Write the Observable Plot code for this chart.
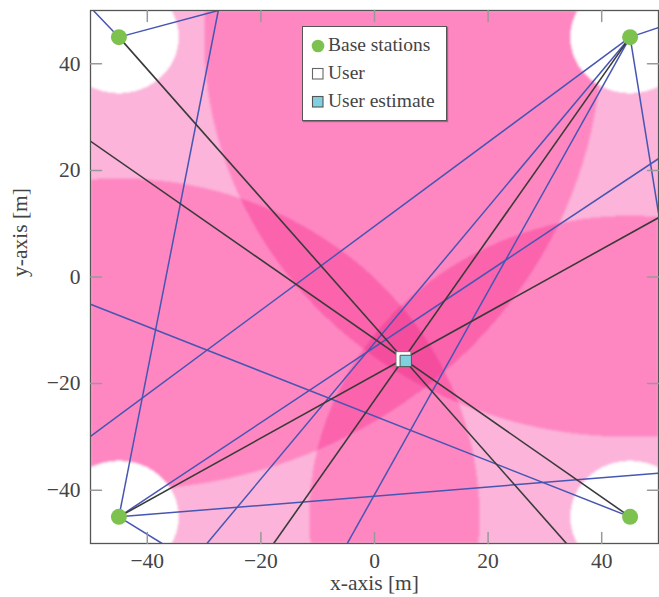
<!DOCTYPE html>
<html>
<head>
<meta charset="utf-8">
<script src="https://cdn.jsdelivr.net/npm/d3@7"></script>
<script src="https://cdn.jsdelivr.net/npm/@observablehq/plot@0.6"></script>
<style>
  body { margin: 0; background: #fff; }
  #wrap { position: relative; width: 659px; height: 597px; }
  #legend {
    position: absolute; left: 302px; top: 26px; width: 143px; height: 93px;
    border: 1.3px solid #555; background: #fff;
    box-shadow: 1px 1px 1px rgba(0,0,0,0.3);
    font-family: "Liberation Serif", serif; font-size: 19.5px; color: #444;
  }
  .row { position: absolute; left: 0; height: 28px; line-height: 28px; white-space: nowrap; }
  .row svg { position: absolute; left: 6px; top: 7px; }
  .row span { position: absolute; left: 25px; top: -1px; }
</style>
</head>
<body>
<div id="wrap"></div>
<script>
// ---- data ----
const stationX = [-45, 45, -45, 45];          // top-left, top-right, bottom-left, bottom-right
const stationY = [45, 45, -45, -45];
const outerRadius = [85, 75, 63.5, 56.5];      // distance-region radius per station
const innerRadius = [10.5, 10.5, 10.5, 10.5];  // exclusion disk around each station
const userX = [5.1], userY = [-15.4];
const estimateX = [5.5], estimateY = [-15.75];
// multipath rays (blue): station index and end point on the frame
const rayStation = [0, 0, 1, 1, 1, 1, 1, 2, 2, 2, 2, 3];
const rayEndX = [-49.5, -27.5, 50, 50, -50, -29.5, -4.8, -37.4, -27.5, 50, 50, -50];
const rayEndY = [50, 50, 46.8, 12, -29.9, -50, -50, -50, 50, 22.2, -36.8, -5.1];
const xTicks = [-40, -20, 0, 20, 40];
const yTicks = [-40, -20, 0, 20, 40];
const regionCount = [0, 1, 2, 3, 4];
const regionColors = ["#ffffff", "#fcb4da", "#fe87c2", "#fb63ad", "#f44d9e"];

const stations = d3.range(stationX.length);
const rays = d3.range(rayStation.length);

function regionLevel(x, y) {
  let n = 0;
  for (const i of stations) {
    const d = Math.hypot(x - stationX[i], y - stationY[i]);
    if (d < innerRadius[i]) return 0;
    if (d <= outerRadius[i]) n++;
  }
  return n;
}

const tickShape = {draw(ctx, l) { ctx.moveTo(0, 0); ctx.lineTo(0, -l); }};
const fmt = d => d < 0 ? "\u2212" + Math.abs(d) : String(d);
const font = "Liberation Serif";

const chart = Plot.plot({
  width: 659, height: 597,
  marginLeft: 90, marginRight: 1, marginTop: 10, marginBottom: 54,
  style: {fontFamily: font, color: "#444", background: "#fff"},
  x: {domain: [-50, 50]},
  y: {domain: [-50, 50]},
  color: {type: "ordinal", domain: regionCount, range: regionColors},
  marks: [
    Plot.raster({x1: -50, x2: 50, y1: -50, y2: 50, width: 568, height: 533,
      fill: (x, y) => regionLevel(x, y), imageRendering: "auto", clip: true}),
    Plot.link(rays, {
      x1: i => stationX[rayStation[i]], y1: i => stationY[rayStation[i]],
      x2: i => rayEndX[i], y2: i => rayEndY[i],
      stroke: "#4656b2", strokeWidth: 1.5, clip: true
    }),
    Plot.link(stations, {
      x1: i => stationX[i], y1: i => stationY[i],
      x2: i => stationX[i] + 4 * (userX[0] - stationX[i]),
      y2: i => stationY[i] + 4 * (userY[0] - stationY[i]),
      stroke: "#3a3a3a", strokeWidth: 1.6, clip: true
    }),
    Plot.dot(stations, {x: i => stationX[i], y: i => stationY[i], r: 8, fill: "#7dc24e"}),
    Plot.dot([0], {x: i => userX[i], y: i => userY[i], symbol: "square", r: 8.4,
      fill: "#fff", stroke: "#777", strokeWidth: 1}),
    Plot.dot([0], {x: i => estimateX[i], y: i => estimateY[i], symbol: "square", r: 6.4,
      fill: "#80d0e0", stroke: "#555", strokeWidth: 1}),
    Plot.frame({stroke: "#555", strokeWidth: 1.3}),
    Plot.vector(xTicks, {x: d => d, frameAnchor: "bottom", length: 11, rotate: 0, anchor: "start", shape: tickShape, stroke: "#999"}),
    Plot.vector(xTicks, {x: d => d, frameAnchor: "top", length: 11, rotate: 180, anchor: "start", shape: tickShape, stroke: "#999"}),
    Plot.vector(yTicks, {y: d => d, frameAnchor: "left", length: 11, rotate: 90, anchor: "start", shape: tickShape, stroke: "#999"}),
    Plot.vector(yTicks, {y: d => d, frameAnchor: "right", length: 11, rotate: -90, anchor: "start", shape: tickShape, stroke: "#999"}),
    Plot.axisX(xTicks, {anchor: "bottom", tickSize: 0, tickPadding: 9.5, fontSize: 21.5, tickFormat: fmt, label: null}),
    Plot.axisY(yTicks, {anchor: "left", tickSize: 0, tickPadding: 10, fontSize: 21.5, tickFormat: fmt, label: null}),
    Plot.text(["x-axis [m]"], {frameAnchor: "bottom", dy: 40, fontSize: 21.5, lineAnchor: "middle", fill: "#444"}),
    Plot.text(["y-axis [m]"], {frameAnchor: "left", dx: -70, rotate: -90, fontSize: 21.5, lineAnchor: "middle", fill: "#444"})
  ]
});

// soften the raster region edges a little, like the reference's smoothed bitmap
const svg = d3.select(chart.tagName.toLowerCase() === "svg" ? chart : chart.querySelector("svg"));
const defs = svg.insert("defs", ":first-child");
defs.append("filter").attr("id", "soft-edges")
  .attr("x", "-2%").attr("y", "-2%").attr("width", "104%").attr("height", "104%")
  .append("feGaussianBlur").attr("stdDeviation", 1).attr("edgeMode", "duplicate");
svg.selectAll("image").attr("filter", "url(#soft-edges)");

const wrap = document.getElementById("wrap");
wrap.appendChild(chart);

const legendItems = [
  {label: "Base stations", marker: '<circle cx="9" cy="7" r="6.3" fill="#7dc24e"/>'},
  {label: "User", marker: '<rect x="3.5" y="1.5" width="10.5" height="10.5" fill="#fff" stroke="#666" stroke-width="1.1"/>'},
  {label: "User estimate", marker: '<rect x="3.5" y="1.5" width="10.5" height="10.5" fill="#80d0e0" stroke="#555" stroke-width="1.1"/>'}
];
const legend = document.createElement("div");
legend.id = "legend";
legendItems.forEach((d, k) => {
  const row = document.createElement("div");
  row.className = "row";
  row.style.top = (5 + 28 * k) + "px";
  row.innerHTML = `<svg width="18" height="14">${d.marker}</svg><span>${d.label}</span>`;
  legend.appendChild(row);
});
wrap.appendChild(legend);
</script>
</body>
</html>
